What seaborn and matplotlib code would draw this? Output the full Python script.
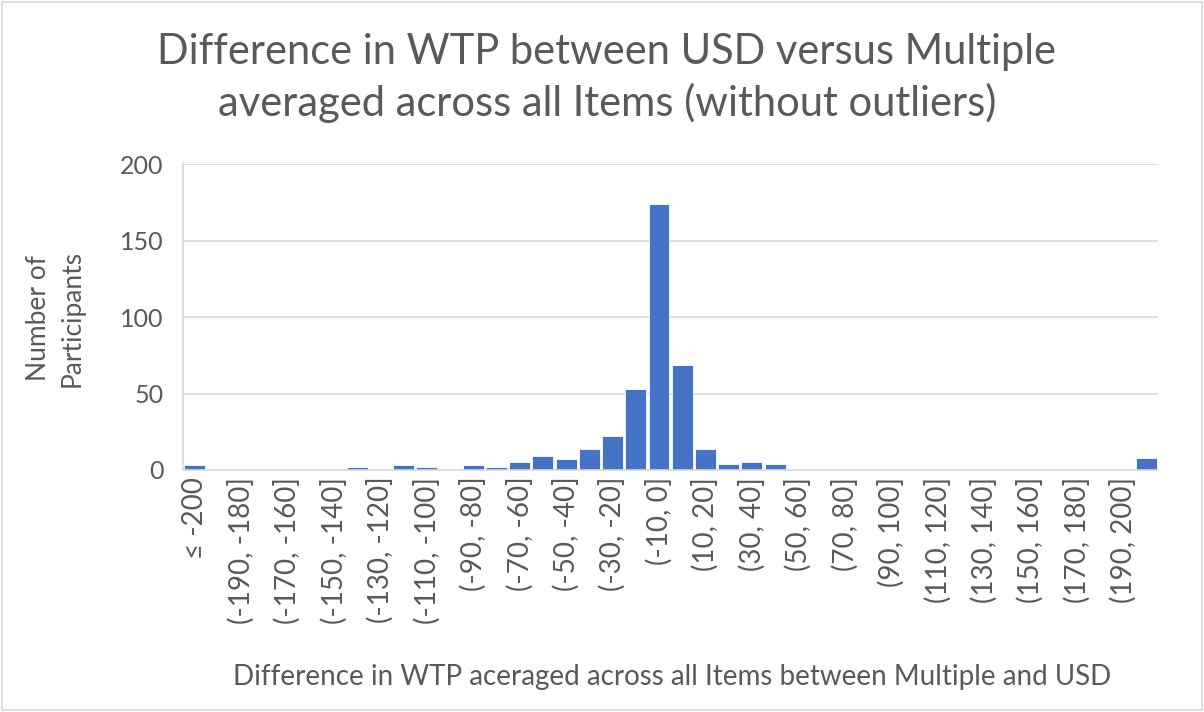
import numpy as np
import pandas as pd
import matplotlib
matplotlib.use('Agg')
import matplotlib.pyplot as plt
import seaborn as sns

# Datos del histograma
bin_labels = ['≤ -200'] + [f'({-200 + 10 * (k - 1)}, {-200 + 10 * k}]' for k in range(1, 41)] + ['> 200']
counts = [3, 0, 0, 0, 0, 0, 0, 2, 0, 3,
          2, 0, 3, 2, 5, 9, 7, 14, 22, 53,
          174, 69, 14, 4, 5, 4, 0, 0, 0, 0,
          0, 0, 0, 0, 0, 0, 0, 0, 0, 0,
          0, 8]
y_ticks = [0, 50, 100, 150, 200]

title = 'Difference in WTP between USD versus Multiple\naveraged across all Items (without outliers)'
x_label = 'Difference in WTP aceraged across all Items between Multiple and USD'
y_label = 'Number of\nParticipants'

df = pd.DataFrame({'bin': bin_labels, 'count': counts})

sns.set_theme(style='white')
plt.rcParams['font.family'] = ['Lato', 'DejaVu Sans']
text_color = '#595959'

fig = plt.figure(figsize=(12.04, 7.12), dpi=100)
ax = fig.add_axes([0.152, 0.340, 0.810, 0.429])

sns.barplot(data=df, x='bin', y='count', color='#4472C4', saturation=1,
            width=0.9, edgecolor='white', linewidth=0.6, ax=ax)

ax.set_ylim(0, 200)
ax.set_xlim(-0.5, len(bin_labels) - 0.5)
ax.set_yticks(y_ticks)
ax.set_yticklabels([str(v) for v in y_ticks], fontsize=18, color=text_color)
ax.yaxis.grid(True, color='#d9d9d9', linewidth=1.2)
ax.set_axisbelow(True)

ticks = list(range(0, len(bin_labels) - 1, 2))
ax.set_xticks(ticks)
ax.set_xticklabels([bin_labels[i] for i in ticks], rotation=90, fontsize=20, color=text_color)
ax.tick_params(axis='x', length=0, pad=5)
ax.tick_params(axis='y', length=0, pad=14)

for side in ['top', 'right']:
    ax.spines[side].set_visible(False)
for side in ['left', 'bottom']:
    ax.spines[side].set_color('#d9d9d9')
    ax.spines[side].set_linewidth(1.2)

ax.set_xlabel('')
ax.set_ylabel('')

fig.text(0.504, 0.890, title, ha='center', va='center', fontsize=30,
         color=text_color, linespacing=1.35)
fig.text(0.558, 0.049, x_label, ha='center', va='center', fontsize=20, color=text_color)
fig.text(0.046, 0.553, y_label, ha='center', va='center', rotation=90,
         fontsize=19, color=text_color, linespacing=1.45)

# Borde del área del gráfico
fig.patches.append(plt.Rectangle((0.002, 0.003), 0.996, 0.994, transform=fig.transFigure,
                                 fill=False, edgecolor='#d9d9d9', linewidth=1.2))

fig.savefig('out.png', dpi=100)
